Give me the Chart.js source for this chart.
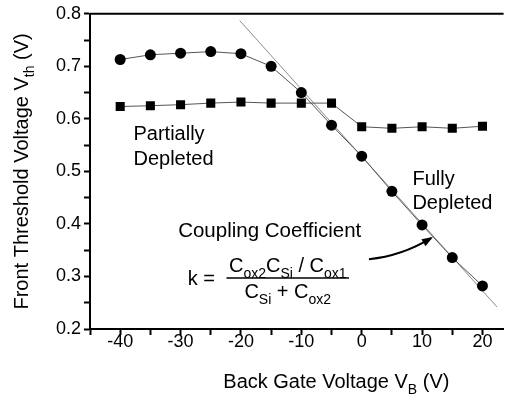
<!DOCTYPE html>
<html>
<head>
<meta charset="utf-8">
<script src="https://cdn.jsdelivr.net/npm/chart.js@4.4.0/dist/chart.umd.min.js"></script>
<style>
  html, body { margin: 0; padding: 0; background: #fff; }
  canvas { display: block; }
</style>
</head>
<body>
<canvas id="vthChart" width="510" height="400"></canvas>
<script>
// Back gate voltage sweep (V)
const backGate = [-40, -35, -30, -25, -20, -15, -10, -5, 0, 5, 10, 15, 20];
// Front threshold voltage (V), circle markers
const vthCircle = [0.713, 0.722, 0.725, 0.728, 0.724, 0.700, 0.650, 0.588, 0.529, 0.462, 0.398, 0.336, 0.282];
// Front threshold voltage (V), square markers
const vthSquare = [0.6235, 0.625, 0.627, 0.630, 0.632, 0.630, 0.630, 0.630, 0.585, 0.582, 0.585, 0.582, 0.586];
// linear fit through the fully depleted region
const fitX = [-20.2, 22.4];
const fitY = [0.787, 0.242];
// labelled ticks
const xTickLabels = [-40, -30, -20, -10, 0, 10, 20];
const yTickLabels = ["0.2", "0.3", "0.4", "0.5", "0.6", "0.7", "0.8"];

const FONT = "'Liberation Sans', Arial, sans-serif";

// draw text made of [text, isSubscript] parts
function drawRich(ctx, parts, x, y, size, align) {
  const subSize = size * 0.7;
  let total = 0;
  parts.forEach(([t, sub]) => {
    ctx.font = (sub ? subSize : size) + "px " + FONT;
    total += ctx.measureText(t).width;
  });
  let cx = align === "center" ? x - total / 2 : x;
  ctx.textAlign = "left";
  ctx.textBaseline = "alphabetic";
  parts.forEach(([t, sub]) => {
    ctx.font = (sub ? subSize : size) + "px " + FONT;
    ctx.fillText(t, cx, sub ? y + size * 0.3 : y);
    cx += ctx.measureText(t).width;
  });
}

const annotations = {
  id: "annotations",
  afterDraw(chart) {
    const { ctx, chartArea, scales: { x, y } } = chart;
    const X = v => x.getPixelForValue(v);
    const Y = v => y.getPixelForValue(v);
    ctx.save();
    ctx.fillStyle = "#000";
    ctx.strokeStyle = "#000";

    // top frame line
    ctx.lineWidth = 2;
    ctx.beginPath();
    ctx.moveTo(chartArea.left, chartArea.top);
    ctx.lineTo(chartArea.right, chartArea.top);
    ctx.stroke();

    // region labels
    drawRich(ctx, [["Partially"]], X(-37.8), Y(0.559), 20);
    drawRich(ctx, [["Depleted"]], X(-37.8), Y(0.513), 20);
    drawRich(ctx, [["Fully"]], X(8.4), Y(0.474), 20);
    drawRich(ctx, [["Depleted"]], X(8.4), Y(0.428), 20);
    drawRich(ctx, [["Coupling Coefficient"]], X(-30.4), Y(0.375), 20.5);

    // k formula
    drawRich(ctx, [["k ="]], X(-28.8), Y(0.284), 20);
    const barL = X(-22.4), barR = X(-2.1), barY = Y(0.297);
    ctx.lineWidth = 1.5;
    ctx.beginPath();
    ctx.moveTo(barL, barY);
    ctx.lineTo(barR, barY);
    ctx.stroke();
    const mid = (barL + barR) / 2;
    drawRich(ctx, [["C"], ["ox2", 1], ["C"], ["Si", 1], [" / C"], ["ox1", 1]], mid, barY - 6, 20, "center");
    drawRich(ctx, [["C"], ["Si", 1], [" + C"], ["ox2", 1]], mid, barY + 20, 20, "center");

    // curved arrow
    const sx = X(1.2), sy = Y(0.333), qx = X(6.6), qy = Y(0.339), ex = X(11.5), ey = Y(0.373);
    ctx.lineWidth = 2;
    ctx.beginPath();
    ctx.moveTo(sx, sy);
    ctx.quadraticCurveTo(qx, qy, ex, ey);
    ctx.stroke();
    const ang = Math.atan2(ey - qy, ex - qx);
    ctx.beginPath();
    ctx.moveTo(ex + 2 * Math.cos(ang), ey + 2 * Math.sin(ang));
    ctx.lineTo(ex - 9 * Math.cos(ang) + 4 * Math.sin(ang), ey - 9 * Math.sin(ang) - 4 * Math.cos(ang));
    ctx.lineTo(ex - 9 * Math.cos(ang) - 4 * Math.sin(ang), ey - 9 * Math.sin(ang) + 4 * Math.cos(ang));
    ctx.closePath();
    ctx.fill();

    // axis titles
    drawRich(ctx, [["Back Gate Voltage V"], ["B", 1], [" (V)"]], X(-4.2), 388, 20, "center");
    ctx.translate(28, (chartArea.top + chartArea.bottom) / 2);
    ctx.rotate(-Math.PI / 2);
    drawRich(ctx, [["Front Threshold Voltage V"], ["th", 1], [" (V)"]], 0, 0, 20, "center");
    ctx.restore();
  }
};

const ctx = document.getElementById("vthChart");

new Chart(ctx, {
  type: "scatter",
  data: {
    datasets: [
      {
        label: "circle",
        data: backGate.map((v, i) => ({ x: v, y: vthCircle[i] })),
        showLine: true,
        borderColor: "#555",
        borderWidth: 1,
        pointStyle: "circle",
        pointRadius: 5.5,
        pointBackgroundColor: "#000",
        pointBorderColor: "#000",
        pointBorderWidth: 0,
      },
      {
        label: "square",
        data: backGate.map((v, i) => ({ x: v, y: vthSquare[i] })),
        showLine: true,
        borderColor: "#555",
        borderWidth: 1,
        pointStyle: "rect",
        pointRadius: 6.4,
        pointBackgroundColor: "#000",
        pointBorderColor: "#000",
        pointBorderWidth: 0,
      },
      {
        label: "fit",
        data: fitX.map((v, i) => ({ x: v, y: fitY[i] })),
        showLine: true,
        borderColor: "#8c8c8c",
        borderWidth: 1,
        pointRadius: 0,
      },
    ],
  },
  options: {
    responsive: false,
    animation: false,
    layout: { padding: { top: 13, left: 0, right: 0, bottom: 0 } },
    plugins: {
      legend: { display: false },
      tooltip: { enabled: false },
    },
    scales: {
      x: {
        type: "linear",
        min: -45,
        max: 23.5,
        afterFit: s => { s.height = 71; },
        ticks: {
          stepSize: 5,
          includeBounds: false,
          autoSkip: false,
          maxRotation: 0,
          padding: -4,
          color: "#000",
          font: { family: FONT, size: 18 },
          callback: v => (xTickLabels.includes(v) ? String(v) : ""),
        },
        grid: {
          drawOnChartArea: false,
          drawTicks: true,
          tickLength: 6,
          tickWidth: 2,
          color: "#000",
        },
        border: { display: true, color: "#000", width: 2 },
      },
      y: {
        min: 0.2,
        max: 0.8,
        afterFit: s => { s.width = 90; },
        ticks: {
          stepSize: 0.05,
          autoSkip: false,
          padding: 3,
          color: "#000",
          font: { family: FONT, size: 18 },
          callback: v => {
            const t = (Math.round(v * 100) / 100).toFixed(1);
            return Math.round(v * 100) % 10 === 0 && yTickLabels.includes(t) ? t : "";
          },
        },
        grid: {
          drawOnChartArea: false,
          drawTicks: true,
          tickLength: 6,
          tickWidth: 2,
          color: "#000",
        },
        border: { display: true, color: "#000", width: 2 },
      },
    },
  },
  plugins: [annotations],
});
</script>
</body>
</html>
